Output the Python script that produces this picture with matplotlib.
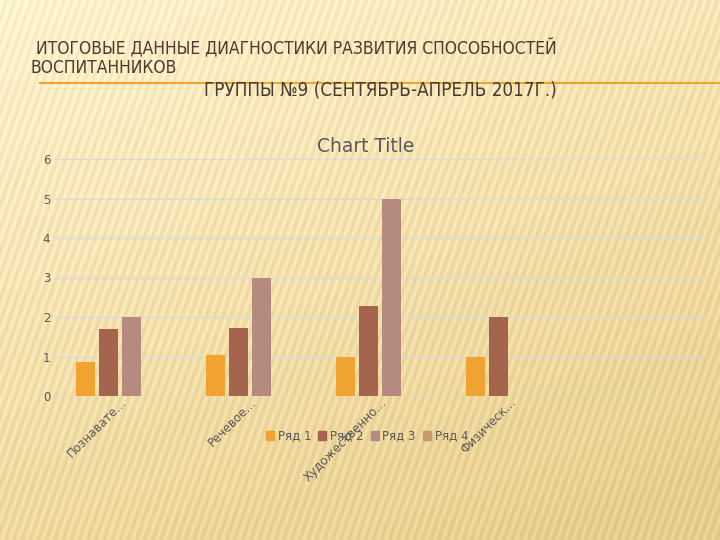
import numpy as np
import matplotlib.pyplot as plt
from matplotlib.patches import Patch

categories = ["Познавате…", "Речевое…", "Художественно…", "Физическ…", ""]
series_names = ["Ряд 1", "Ряд 2", "Ряд 3", "Ряд 4"]
row1 = [0.87, 1.05, 0.98, 0.98, 0]
row2 = [1.70, 1.73, 2.28, 1.99, 0]
row3 = [2.0, 3.0, 5.0, 0, 0]
row4 = [0, 0, 0, 0, 0]
colors = ["#f0a330", "#a5644e", "#b58b80", "#c49a6c"]

fig = plt.figure(figsize=(7.2, 5.4), dpi=100)

# slide background: cream gradient with soft diagonal stripes
h, w = 540, 720
yy, xx = np.mgrid[0:h, 0:w]
t = np.clip((yy / h) * 0.7 + (xx / w) * 0.35, 0, 1)
top = np.array([255, 243, 206]) / 255.0
bot = np.array([232, 206, 140]) / 255.0
bg = top[None, None, :] * (1 - t[..., None]) + bot[None, None, :] * t[..., None]
stripes = 0.03 * np.sin((xx + 0.35 * yy) / 1.3)
bg = np.clip(bg + stripes[..., None], 0, 1)
bgax = fig.add_axes([0, 0, 1, 1])
bgax.imshow(bg, aspect="auto", extent=[0, 1, 0, 1])
bgax.set_axis_off()

title_color = "#4b3b2f"
fig.text(36 / 720, 1 - 49 / 540, "ИТОГОВЫЕ ДАННЫЕ ДИАГНОСТИКИ РАЗВИТИЯ СПОСОБНОСТЕЙ",
         fontsize=12.5, color=title_color, va="center", ha="left", fontstretch="condensed")
fig.text(31 / 720, 1 - 68 / 540, "ВОСПИТАННИКОВ",
         fontsize=12.5, color=title_color, va="center", ha="left", fontstretch="condensed")
fig.text(557 / 720, 1 - 90 / 540, "ГРУППЫ №9 (СЕНТЯБРЬ-АПРЕЛЬ 2017Г.)",
         fontsize=13.5, color=title_color, va="center", ha="right", fontstretch="condensed")
bgax.plot([40 / 720, 1], [1 - 83 / 540, 1 - 83 / 540], color="#f0a330", lw=1.5,
          transform=bgax.transAxes)

ax = fig.add_axes([55 / 720, 1 - 396 / 540, 650 / 720, (396 - 159) / 540])
ax.patch.set_alpha(0)
x = np.arange(len(categories))
width = 0.146
step = 0.177
for i, (vals, name) in enumerate(zip([row1, row2, row3, row4], series_names)):
    ax.bar(x + (i - 1.5) * step, vals, width, color=colors[i], label=name, zorder=3)

ax.set_xlim(-0.5, len(categories) - 0.5)
ax.set_ylim(0, 6)
ax.set_yticks(range(0, 7))
ax.grid(axis="y", color="#d9d9d9", lw=1, zorder=0)
for s in ax.spines.values():
    s.set_visible(False)
ax.axhline(0, color="#d9d9d9", lw=1, zorder=2)
ax.tick_params(axis="y", length=0, colors="#595959", labelsize=8.5)
ax.tick_params(axis="x", length=0, colors="#595959", labelsize=8.6, pad=0)
ax.set_xticks(x)
ax.set_xticklabels(categories, rotation=45, ha="right", rotation_mode="anchor")
fig.text(366 / 720, 1 - 147 / 540, "Chart Title", fontsize=13.4, color="#595959",
         ha="center", va="center")

handles = [Patch(color=c, label=n) for c, n in zip(colors, series_names)]
fig.legend(handles=handles, loc="center", bbox_to_anchor=(367 / 720, 1 - 436 / 540), ncol=4,
           frameon=False, fontsize=8.5, labelcolor="#595959", handlelength=0.7, handleheight=0.7,
           handletextpad=0.3, columnspacing=0.6)

fig.savefig("out.png", dpi=100)
